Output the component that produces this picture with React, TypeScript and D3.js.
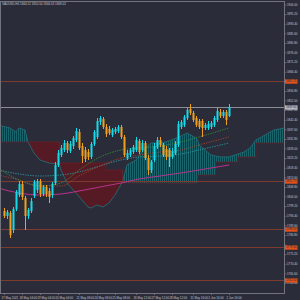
import { useEffect, useRef } from "react";
import * as d3 from "d3";

const title = "XAUUSD,H4  1844.52 1850.54 1844.03 1849.02";

// H4 candles, left to right
const candleOpen = [
  1797.0, 1794.5, 1796.0, 1787.5, 1798.0, 1805.0, 1810.5, 1803.5, 1794.5, 1797.0,
  1804.5, 1807.5, 1812.0, 1805.5, 1809.0, 1807.0, 1805.0, 1811.0, 1820.0, 1825.0,
  1827.5, 1831.0, 1827.0, 1829.5, 1832.5, 1836.5, 1829.5, 1827.5, 1826.5, 1824.0,
  1830.5, 1834.0, 1841.5, 1843.0, 1839.0, 1838.0, 1835.0, 1836.5, 1837.0, 1839.0,
  1834.0, 1823.5, 1825.0, 1826.5, 1827.5, 1832.0, 1827.5, 1831.0, 1823.5, 1817.5,
  1822.5, 1829.0, 1832.5, 1830.0, 1828.0, 1827.5, 1824.0, 1826.0, 1830.0, 1839.0,
  1840.0, 1843.5, 1848.0, 1846.0, 1843.5, 1842.0, 1842.0, 1838.5, 1838.5, 1839.0,
  1840.0, 1842.5, 1846.5, 1844.5, 1846.5, 1844.5,
];
const candleHigh = [
  1798.5, 1797.5, 1797.0, 1799.0, 1807.5, 1812.0, 1812.0, 1804.5, 1798.5, 1803.5,
  1812.5, 1813.0, 1813.0, 1810.0, 1810.0, 1808.5, 1811.5, 1821.5, 1827.5, 1830.0,
  1832.5, 1832.0, 1832.0, 1834.5, 1838.5, 1838.0, 1831.0, 1829.0, 1828.0, 1831.5,
  1837.5, 1843.5, 1844.5, 1844.0, 1840.5, 1839.5, 1838.5, 1839.0, 1840.0, 1840.0,
  1835.0, 1827.5, 1828.5, 1830.0, 1834.0, 1833.0, 1832.5, 1832.0, 1825.0, 1822.5,
  1831.0, 1834.0, 1834.0, 1831.0, 1829.5, 1828.5, 1828.5, 1832.0, 1842.0, 1842.5,
  1845.0, 1848.5, 1850.5, 1847.0, 1844.5, 1843.0, 1843.0, 1841.0, 1842.0, 1842.0,
  1844.5, 1848.5, 1848.0, 1847.5, 1847.5, 1850.5,
];
const candleLow = [
  1793.5, 1793.0, 1783.5, 1786.0, 1797.0, 1804.0, 1802.5, 1787.5, 1793.0, 1796.0,
  1803.5, 1806.0, 1804.0, 1804.5, 1804.0, 1801.0, 1803.5, 1810.0, 1819.0, 1824.0,
  1826.5, 1826.0, 1826.0, 1828.0, 1831.5, 1827.5, 1821.0, 1821.5, 1822.5, 1823.0,
  1829.5, 1833.0, 1840.0, 1838.0, 1834.0, 1835.0, 1834.0, 1835.5, 1836.0, 1833.0,
  1824.0, 1822.5, 1824.0, 1825.5, 1826.5, 1825.5, 1826.5, 1822.5, 1815.0, 1816.0,
  1821.5, 1828.0, 1829.0, 1824.0, 1822.5, 1819.0, 1823.0, 1825.0, 1829.0, 1838.0,
  1839.0, 1842.5, 1845.0, 1841.5, 1839.0, 1838.0, 1834.0, 1837.5, 1837.5, 1838.0,
  1839.0, 1841.5, 1843.5, 1843.5, 1840.0, 1844.0,
];
const candleClose = [
  1794.5, 1796.5, 1785.0, 1798.0, 1806.5, 1810.5, 1804.0, 1794.5, 1797.5, 1802.0,
  1811.5, 1812.0, 1805.5, 1809.0, 1805.5, 1804.0, 1810.5, 1820.0, 1826.0, 1828.5,
  1831.0, 1827.5, 1830.5, 1833.5, 1837.0, 1828.5, 1824.5, 1823.0, 1824.0, 1830.5,
  1836.5, 1842.0, 1843.5, 1839.0, 1835.5, 1836.0, 1837.5, 1838.0, 1839.0, 1834.0,
  1825.0, 1826.0, 1827.5, 1829.0, 1832.5, 1826.5, 1831.0, 1823.5, 1817.5, 1821.5,
  1829.5, 1832.5, 1830.0, 1825.0, 1824.0, 1824.0, 1827.0, 1830.5, 1840.5, 1841.5,
  1844.0, 1847.5, 1846.0, 1842.5, 1840.0, 1839.0, 1838.5, 1840.0, 1840.5, 1841.0,
  1843.5, 1847.0, 1844.5, 1846.5, 1842.5, 1849.0,
];

// ichimoku cloud (bar slot, span A, span B)
const cloudSlot = [
  -2, 2, 4, 5, 7, 8, 10, 12, 15, 18, 18.5, 18.5, 19, 21, 24, 28, 29, 31, 33, 34,
  34, 35, 37, 38.5, 39.5, 39.5, 41, 44, 47, 49, 52, 55, 59, 61, 64, 64.5, 64.5, 65, 69, 70.5,
  70.5, 72, 75, 78, 78, 80, 82, 84, 84, 87, 90, 95,
];
const spanA = [
  1840, 1838.5, 1836.5, 1838.5, 1837.5, 1831.5, 1826, 1822.5, 1821, 1820.5,
  1820, 1820, 1817.5, 1811, 1806, 1799, 1798.5, 1800, 1799, 1800,
  1800, 1801, 1805, 1809, 1811.5, 1811.5, 1820, 1822.5, 1828.5, 1831,
  1831, 1832, 1834.5, 1836, 1833.5, 1832.5, 1832.5, 1830, 1825, 1824.5,
  1824.5, 1824, 1824, 1825.5, 1825.5, 1826.5, 1828.5, 1832.5, 1832.5, 1835,
  1837.5, 1839,
];
const spanB = [
  1831.5, 1831.5, 1831.5, 1831.5, 1831.5, 1831.5, 1831.5, 1831.5, 1831.5, 1831.5,
  1831.5, 1821, 1821, 1821, 1821, 1821, 1821, 1821, 1821, 1821,
  1817.5, 1817.5, 1817.5, 1817.5, 1817.5, 1811, 1811, 1811, 1811, 1811,
  1811, 1811, 1811, 1811, 1811, 1811, 1815, 1815, 1815, 1815,
  1821.5, 1821.5, 1821.5, 1821.5, 1824, 1824, 1824, 1824, 1831, 1831,
  1831, 1831,
];

// moving averages
const maSlot = [-2, 5, 12, 19, 25, 32, 39, 45, 52, 59, 65, 75];
const maFast = [1818.5, 1812.5, 1809.5, 1811, 1817.5, 1824, 1827.5, 1828.5, 1829.5, 1831.5, 1834, 1838.5];
const maSlow = [1815, 1812.5, 1809.5, 1809.5, 1814.5, 1819.5, 1823.5, 1825, 1826.5, 1827.5, 1830, 1834];
const maMid = [1817.5, 1815.5, 1814.5, 1815, 1816.5, 1819.5, 1822.5, 1824, 1824.5, 1825.5, 1827.5, 1831];
const maLong = [1808.5, 1806, 1805, 1805.5, 1807, 1809, 1811, 1813, 1814.5, 1816, 1817.5, 1820];

const levelPrices = [1861.75, 1811.75, 1788.0, 1779.0, 1762.5];
const currentPrice = 1849.0;

const priceTicks = [
  1900.0, 1895.2, 1890.4, 1885.6, 1880.8, 1876.0, 1871.2, 1866.4, 1861.6, 1856.8,
  1852.0, 1847.2, 1842.4, 1837.6, 1832.8, 1828.0, 1823.2, 1818.4, 1813.6, 1808.8,
  1804.0, 1799.2, 1794.4, 1789.6, 1784.8, 1780.0, 1775.2, 1770.4, 1765.6, 1760.8,
];
const dateTickIndex = [0, 6, 12, 18, 25, 31, 37, 44, 50, 56, 63, 69, 75];
const dateTickLabels = [
  "17 May 2021", "18 May 04:00", "19 May 04:00", "20 May 04:00", "21 May 08:00",
  "24 May 08:00", "25 May 08:00", "26 May 12:00", "27 May 12:00", "28 May 12:00",
  "31 May 16:00", "1 Jun 16:00", "2 Jun 16:00",
];

export default function App() {
  const ref = useRef<SVGSVGElement>(null);

  useEffect(() => {
    const width = 300;
    const height = 300;
    const plot = { left: 0.5, top: 1.5, right: 284.5, bottom: 293.5 };
    const font = "Liberation Sans, Arial, sans-serif";

    const svg = d3.select(ref.current);
    svg.selectAll("*").remove();
    svg.attr("width", width).attr("height", height);

    const x = d3.scaleLinear().domain([0, 75]).range([4, 229]);
    const y = d3.scaleLinear().domain([1760.8, 1900]).range([283.4, 5]);

    svg.append("rect").attr("width", width).attr("height", height).attr("fill", "#2b2c39");

    const defs = svg.append("defs");
    defs.append("clipPath").attr("id", "plot-clip")
      .append("rect")
      .attr("x", plot.left).attr("y", plot.top)
      .attr("width", plot.right - plot.left).attr("height", plot.bottom - plot.top);

    // hatch patterns for the cloud
    const hatch = (id: string, color: string) => {
      const p = defs.append("pattern").attr("id", id)
        .attr("patternUnits", "userSpaceOnUse").attr("width", 2).attr("height", 4);
      p.append("rect").attr("width", 1).attr("height", 4).attr("fill", color);
    };
    hatch("hatch-up", "#1b636b");
    hatch("hatch-down", "#561a24");

    const cloud = cloudSlot.map((s, i) => ({ s, a: spanA[i], b: spanB[i] }));
    type C = { s: number; a: number; b: number };
    defs.append("clipPath").attr("id", "above-b").append("path")
      .attr("d", d3.area<C>().x(d => x(d.s)).y0(d => y(d.b)).y1(plot.top)(cloud));
    defs.append("clipPath").attr("id", "below-b").append("path")
      .attr("d", d3.area<C>().x(d => x(d.s)).y0(d => y(d.b)).y1(plot.bottom)(cloud));

    const g = svg.append("g").attr("clip-path", "url(#plot-clip)");

    const cloudArea = d3.area<C>().x(d => x(d.s)).y0(d => y(d.b)).y1(d => y(d.a))(cloud);
    g.append("path").attr("d", cloudArea).attr("fill", "url(#hatch-up)").attr("clip-path", "url(#above-b)");
    g.append("path").attr("d", cloudArea).attr("fill", "url(#hatch-down)").attr("clip-path", "url(#below-b)");

    g.append("path")
      .attr("d", d3.line<C>().x(d => x(d.s)).y(d => y(d.a))(cloud))
      .attr("fill", "none").attr("stroke", "#1e7d85").attr("stroke-width", 0.7);
    g.append("path")
      .attr("d", d3.line<C>().x(d => x(d.s)).y(d => y(d.b))(cloud))
      .attr("fill", "none").attr("stroke", "#6e2128").attr("stroke-width", 0.7);

    // level lines
    levelPrices.forEach(p => {
      g.append("line")
        .attr("x1", plot.left).attr("x2", plot.right)
        .attr("y1", Math.round(y(p)) + 0.5).attr("y2", Math.round(y(p)) + 0.5)
        .attr("stroke", "#7e3a2c").attr("stroke-width", 1);
    });
    g.append("line")
      .attr("x1", plot.left).attr("x2", plot.right)
      .attr("y1", Math.round(y(currentPrice)) + 0.5).attr("y2", Math.round(y(currentPrice)) + 0.5)
      .attr("stroke", "#8c8c94").attr("stroke-width", 1);

    // moving averages
    const maLine = d3.line<number>()
      .x((d, i) => x(maSlot[i]))
      .y(d => y(d))
      .curve(d3.curveMonotoneX);
    const mas = [
      { values: maLong, color: "#b8338c", dash: null, w: 1 },
      { values: maMid, color: "#2b9aa2", dash: "1.5,1", w: 0.8 },
      { values: maSlow, color: "#a5442e", dash: "1.5,1", w: 0.8 },
      { values: maFast, color: "#3a8f3e", dash: "1.5,1", w: 0.8 },
    ];
    mas.forEach(m => {
      g.append("path")
        .attr("d", maLine(m.values))
        .attr("fill", "none")
        .attr("stroke", m.color)
        .attr("stroke-width", m.w)
        .attr("stroke-dasharray", m.dash);
    });

    // candles
    const idx = d3.range(candleOpen.length);
    const color = (i: number) => (candleClose[i] >= candleOpen[i] ? "#12dcec" : "#f0a01e");
    g.selectAll("line.wick")
      .data(idx)
      .join("line")
      .attr("class", "wick")
      .attr("x1", i => x(i) + 0.5).attr("x2", i => x(i) + 0.5)
      .attr("y1", i => y(candleHigh[i])).attr("y2", i => y(candleLow[i]))
      .attr("stroke", color).attr("stroke-width", 1);
    g.selectAll("rect.body")
      .data(idx)
      .join("rect")
      .attr("class", "body")
      .attr("x", i => x(i) - 0.5)
      .attr("width", 2)
      .attr("y", i => y(Math.max(candleOpen[i], candleClose[i])))
      .attr("height", i => Math.max(1, Math.abs(y(candleOpen[i]) - y(candleClose[i]))))
      .attr("fill", color);

    // frame
    svg.append("rect")
      .attr("x", plot.left).attr("y", plot.top)
      .attr("width", plot.right - plot.left).attr("height", plot.bottom - plot.top)
      .attr("fill", "none").attr("stroke", "#73737e").attr("stroke-width", 1);

    // price axis
    const labelYs = [...levelPrices, currentPrice].map(p => y(p));
    priceTicks.forEach(p => {
      const ty = y(p);
      svg.append("line")
        .attr("x1", plot.right).attr("x2", plot.right + 2)
        .attr("y1", ty).attr("y2", ty)
        .attr("stroke", "#8a8a94").attr("stroke-width", 0.6);
      if (labelYs.some(ly => Math.abs(ly - ty) < 3)) return;
      svg.append("text")
        .attr("x", 287).attr("y", ty)
        .attr("dominant-baseline", "middle")
        .style("font-family", font).style("font-size", "2.9px")
        .attr("fill", "#c4c4cc")
        .text(p.toFixed(2));
    });

    const axisLabel = (p: number, bg: string, fg: string) => {
      const ly = Math.round(y(p)) + 0.5;
      svg.append("rect")
        .attr("x", 285).attr("y", ly - 2.2)
        .attr("width", 12.5).attr("height", 4.4)
        .attr("fill", bg);
      svg.append("text")
        .attr("x", 286).attr("y", ly)
        .attr("dominant-baseline", "middle")
        .style("font-family", font).style("font-size", "2.9px")
        .attr("fill", fg)
        .text(p.toFixed(2));
    };
    levelPrices.forEach(p => axisLabel(p, "#e4521c", "#2b2c39"));
    axisLabel(currentPrice, "#b8b8bc", "#2b2c39");

    // time axis
    dateTickIndex.forEach((ti, k) => {
      const tx = Math.round(x(ti)) + 0.5;
      svg.append("line")
        .attr("x1", tx).attr("x2", tx)
        .attr("y1", plot.bottom).attr("y2", plot.bottom + 1.5)
        .attr("stroke", "#8a8a94").attr("stroke-width", 0.6);
      svg.append("text")
        .attr("x", tx - 3).attr("y", 298.6)
        .style("font-family", font).style("font-size", "2.9px")
        .attr("fill", "#c4c4cc")
        .text(dateTickLabels[k]);
    });

    // title
    svg.append("text")
      .attr("x", 2).attr("y", 5)
      .style("font-family", font).style("font-size", "3px")
      .attr("fill", "#c4c4cc")
      .text(title);
  }, []);

  return <svg ref={ref} style={{ position: "absolute", left: 0, top: 0 }}></svg>;
}
